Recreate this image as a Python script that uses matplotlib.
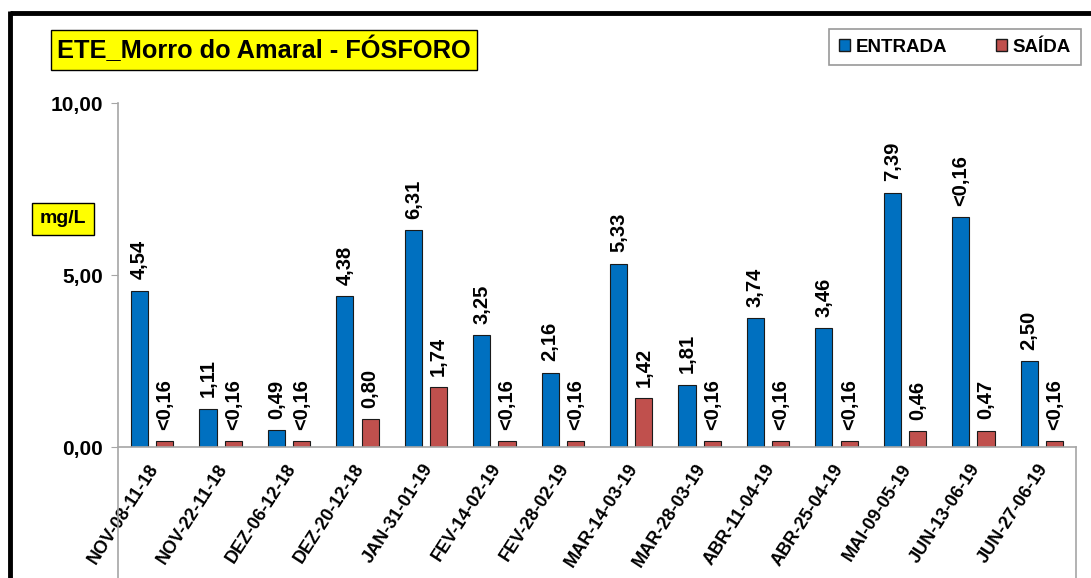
import numpy as np
import matplotlib.pyplot as plt
from matplotlib.lines import Line2D
from matplotlib.patches import Patch

plt.rcParams['font.family'] = ['Liberation Sans', 'DejaVu Sans']

dates = ["NOV-08-11-18", "NOV-22-11-18", "DEZ-06-12-18", "DEZ-20-12-18",
         "JAN-31-01-19", "FEV-14-02-19", "FEV-28-02-19", "MAR-14-03-19",
         "MAR-28-03-19", "ABR-11-04-19", "ABR-25-04-19", "MAI-09-05-19",
         "JUN-13-06-19", "JUN-27-06-19"]
entrada = [4.54, 1.11, 0.49, 4.38, 6.31, 3.25, 2.16, 5.33, 1.81, 3.74, 3.46, 7.39, 6.69, 2.50]
saida = [0.16, 0.16, 0.16, 0.80, 1.74, 0.16, 0.16, 1.42, 0.16, 0.16, 0.16, 0.46, 0.47, 0.16]
entrada_lbl = ["4,54", "1,11", "0,49", "4,38", "6,31", "3,25", "2,16", "5,33", "1,81",
               "3,74", "3,46", "7,39", "<0,16", "2,50"]
saida_lbl = ["<0,16", "<0,16", "<0,16", "0,80", "1,74", "<0,16", "<0,16", "1,42", "<0,16",
             "<0,16", "<0,16", "0,46", "0,47", "<0,16"]

W, H = 1091, 578
fig = plt.figure(figsize=(W / 100, H / 100), dpi=100)
ax = fig.add_axes([118 / W, 1 - 447 / H, (1076 - 118) / W, (447 - 103) / H])

x = np.arange(len(dates))
blue = "#0070C0"
red = "#C0504D"
ax.bar(x - 0.185, entrada, width=0.25, color=blue, edgecolor="#1a1a1a", linewidth=0.8)
ax.bar(x + 0.185, saida, width=0.25, color=red, edgecolor="#1a1a1a", linewidth=0.8)

for xi, v, t in zip(x, entrada, entrada_lbl):
    ax.text(xi - 0.185, v + 0.33, t, rotation=90, ha="center", va="bottom",
            fontsize=14.5, fontweight="bold")
for xi, v, t in zip(x, saida, saida_lbl):
    ax.text(xi + 0.185, v + 0.33, t, rotation=90, ha="center", va="bottom",
            fontsize=14.5, fontweight="bold")

ax.set_xlim(-0.5, len(dates) - 0.5)
ax.set_ylim(0, 10)
ax.set_yticks([0, 5, 10])
ax.set_yticklabels(["0,00", "5,00", "10,00"], fontsize=15, fontweight="bold")
ax.set_xticks(x - 0.06)
ax.set_xticklabels(dates, rotation=57, ha="right", rotation_mode="anchor",
                   fontsize=13, fontweight="bold")
ax.tick_params(axis="x", length=0, pad=10)
ax.tick_params(axis="y", length=5, color="#a6a6a6", pad=6)

for s in ["top", "right", "left"]:
    ax.spines[s].set_visible(False)
ax.spines["bottom"].set_color("#a6a6a6")
ax.spines["bottom"].set_linewidth(1.2)

gray = "#a6a6a6"
fig.add_artist(Line2D([118 / W, 118 / W], [0, 1 - 103 / H], color=gray, lw=1.2))
fig.add_artist(Line2D([1076 / W, 1076 / W], [0, 1 - 447 / H], color=gray, lw=1.2))

# black frame
fig.add_artist(Line2D([9.5 / W, 1], [1 - 13 / H, 1 - 13 / H], color="black", lw=3.5,
                      solid_capstyle="butt"))
fig.add_artist(Line2D([9.5 / W, 9.5 / W], [0, 1 - 11 / H], color="black", lw=3.5,
                      solid_capstyle="butt"))

fig.text(57 / W, 1 - 50 / H, "ETE_Morro do Amaral - FÓSFORO", fontsize=18.3, fontweight="bold",
         ha="left", va="center",
         bbox=dict(boxstyle="square,pad=0.25", facecolor="yellow", edgecolor="black", lw=1))
fig.text(63 / W, 1 - 219 / H, "mg/L", fontsize=14, fontweight="bold", ha="center",
         va="center",
         bbox=dict(boxstyle="square,pad=0.4", facecolor="yellow", edgecolor="black", lw=1))

handles = [Patch(facecolor=blue, edgecolor="#1a1a1a", label="ENTRADA"),
           Patch(facecolor=red, edgecolor="#1a1a1a", label="SAÍDA")]
leg = fig.legend(handles=handles, loc="center", bbox_to_anchor=(955 / W, 1 - 47 / H),
                 ncol=2, frameon=True, fancybox=False, edgecolor="#7f7f7f",
                 prop={"weight": "bold", "size": 13.5}, handlelength=0.6, handleheight=0.6,
                 handletextpad=0.3, columnspacing=2.6, borderpad=0.6, borderaxespad=0)
leg._legend_box.pad = 7
leg.get_frame().set_linewidth(1.2)

fig.savefig("out.png", dpi=100)
